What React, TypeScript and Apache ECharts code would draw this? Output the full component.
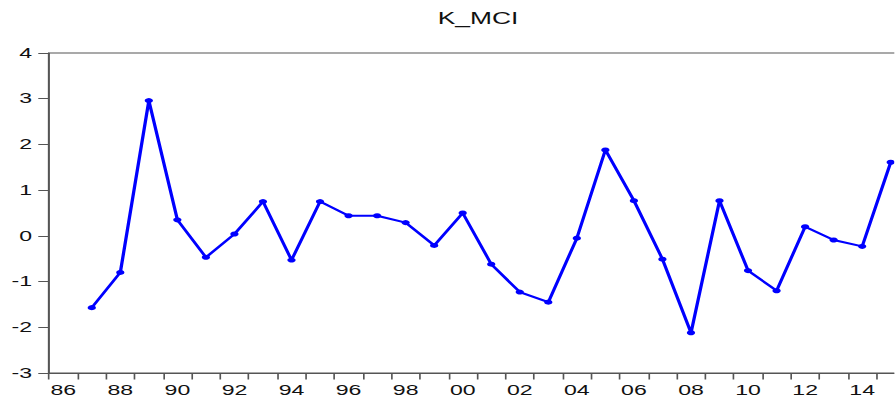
import React, { useEffect, useRef } from "react";
import * as echarts from "echarts";

const categories: string[] = [
  "86", "87", "88", "89", "90", "91", "92", "93", "94", "95",
  "96", "97", "98", "99", "00", "01", "02", "03", "04", "05",
  "06", "07", "08", "09", "10", "11", "12", "13", "14", "15",
];

const kMci: (number | null)[] = [
  null, -1.57, -0.8, 2.96, 0.35, -0.47, 0.04, 0.75, -0.53, 0.75,
  0.44, 0.44, 0.29, -0.21, 0.5, -0.62, -1.23, -1.45, -0.05, 1.88,
  0.77, -0.51, -2.12, 0.77, -0.76, -1.2, 0.2, -0.09, -0.23, 1.61,
];

const titleText = "K_MCI";

// The reference is horizontally stretched; draw narrower, then stretch.
const STRETCH = 1.65;
const W = 895 / STRETCH;
const H = 403;

export default function App() {
  const ref = useRef<HTMLDivElement>(null);

  useEffect(() => {
    if (!ref.current) return;
    const chart = echarts.init(ref.current, undefined, { renderer: "svg" });
    const font = "Liberation Sans, Arial, sans-serif";
    chart.setOption({
      animation: false,
      backgroundColor: "#ffffff",
      graphic: [
        {
          type: "text",
          x: 478 / STRETCH,
          y: 19,
          style: {
            text: titleText,
            fontFamily: font,
            fontSize: 16,
            fill: "#111",
            textAlign: "center",
            textVerticalAlign: "middle",
          },
        },
      ],
      grid: {
        left: 49 / STRETCH,
        top: 53,
        width: (905 - 49) / STRETCH,
        height: 320,
        show: true,
        borderColor: "#555",
        borderWidth: 1,
        backgroundColor: "transparent",
        containLabel: false,
        outerBoundsMode: "none",
      },
      xAxis: {
        type: "category",
        data: categories,
        boundaryGap: true,
        axisLine: { onZero: false, lineStyle: { color: "#555", width: 1 } },
        axisTick: {
          show: true,
          interval: 0,
          length: 6.5,
          lineStyle: { color: "#555", width: 1 },
        },
        axisLabel: {
          interval: 1,
          margin: 10,
          fontFamily: font,
          fontSize: 14,
          color: "#111",
        },
        splitLine: { show: false },
      },
      yAxis: {
        type: "value",
        min: -3,
        max: 4,
        interval: 1,
        axisLine: { show: true, lineStyle: { color: "#555", width: 1 } },
        axisTick: {
          show: true,
          length: 6.5,
          lineStyle: { color: "#555", width: 1 },
        },
        axisLabel: {
          margin: 10.3,
          fontFamily: font,
          fontSize: 14,
          color: "#111",
        },
        splitLine: { show: false },
      },
      series: [
        {
          type: "line",
          name: titleText,
          data: kMci,
          connectNulls: false,
          symbol: "circle",
          symbolSize: 5,
          showSymbol: true,
          lineStyle: { color: "#0000ff", width: 2 },
          itemStyle: { color: "#0000ff" },
        },
      ],
    });
    return () => chart.dispose();
  }, []);

  return (
    <div
      ref={ref}
      style={{
        position: "absolute",
        left: 0,
        top: 0,
        width: W,
        height: H,
        transform: `scaleX(${STRETCH})`,
        transformOrigin: "0 0",
      }}
    />
  );
}
